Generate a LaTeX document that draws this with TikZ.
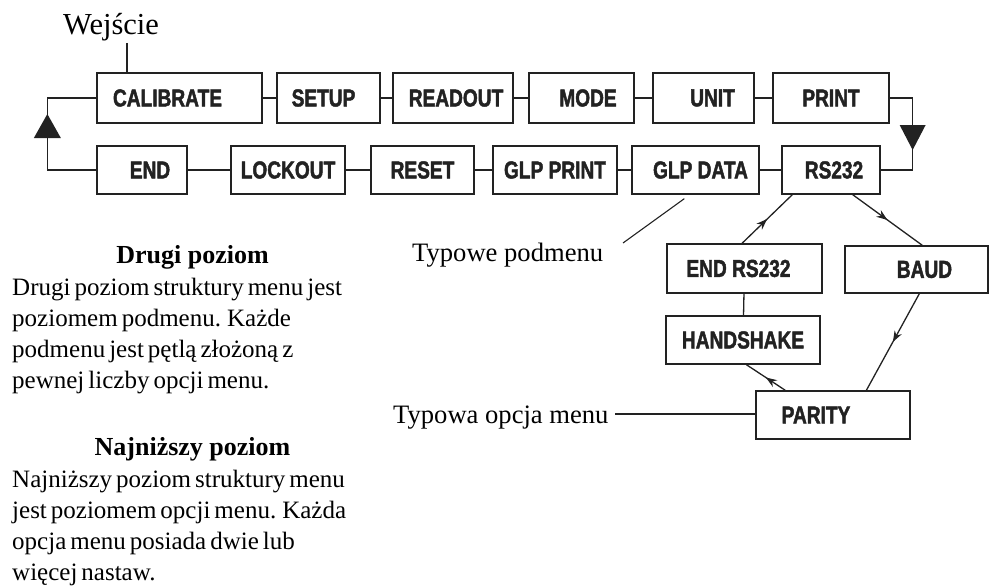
\documentclass[tikz,border=0pt]{standalone}
\usepackage{fontspec}
\setmainfont{Liberation Serif}
\newfontfamily\boxfont[FakeStretch=0.78, BoldFeatures={FakeBold=1.8}]{Liberation Sans}
\usetikzlibrary{arrows.meta,decorations.markings}

\definecolor{ink}{HTML}{222222}
\newcommand\tightwords{\spaceskip=4pt plus 1pt minus 1pt\relax}

\begin{document}
\begin{tikzpicture}[x=1pt,y=-1pt,
  menubox/.style={draw=ink, line width=1.3pt, inner sep=0pt, rectangle,
    font=\boxfont\bfseries\fontsize{24.5}{27}\selectfont, text=ink},
  toprow/.style={menubox, minimum height=50pt},
  botrow/.style={menubox, minimum height=48pt},
  link/.style={draw=ink, line width=1.3pt},
  midarrow/.style={draw=ink, line width=1.3pt, postaction={decorate},
    decoration={markings, mark=at position 0.5 with {\arrow{Stealth[length=11pt,width=8pt]}}}},
  note/.style={inner sep=0pt, font=\fontsize{26.6}{31}\selectfont},
  body/.style={inner sep=0pt, anchor=base west,
    font=\fontsize{25}{31}\selectfont\tightwords},
  headline/.style={inner sep=0pt, anchor=base,
    font=\bfseries\fontsize{26}{31}\selectfont},
]
\useasboundingbox (0,0) rectangle (991,586);

% main menu loop, upper row
\node[toprow, minimum width=165pt] (cal)   at (179.5,98) {CALIBRATE\hspace*{24pt}};
\node[toprow, minimum width=103pt] (setup) at (328.5,98) {SETUP\hspace*{10pt}};
\node[toprow, minimum width=120pt] (rdo)   at (453,98)   {\hspace*{6pt}READOUT};
\node[toprow, minimum width=105pt] (mode)  at (581.5,98) {\hspace*{13pt}MODE};
\node[toprow, minimum width=101pt] (unit)  at (703.5,98) {\hspace*{18pt}UNIT};
\node[toprow, minimum width=116pt] (print) at (831,98)   {PRINT};

% main menu loop, lower row
\node[botrow, minimum width=90pt]  (end)  at (142,170)   {\hspace*{16pt}END};
\node[botrow, minimum width=114pt] (lock) at (288,170)   {LOCKOUT};
\node[botrow, minimum width=103pt] (rst)  at (422.5,170) {RESET};
\node[botrow, minimum width=124pt] (gpr)  at (555,170)   {GLP PRINT};
\node[botrow, minimum width=127pt] (gda)  at (695.5,170) {\hspace*{10pt}GLP DATA};
\node[botrow, minimum width=98pt]  (rs)   at (831,170)   {\hspace*{6pt}RS232};

% RS232 submenu
\node[menubox, minimum width=155pt, minimum height=49pt] (endrs)  at (744.5,268.5) {END RS232\hspace*{12pt}};
\node[menubox, minimum width=143pt, minimum height=47pt] (baud)   at (916.5,269.5) {\hspace*{16pt}BAUD};
\node[menubox, minimum width=154pt, minimum height=48pt] (hand)   at (743,340)     {HANDSHAKE};
\node[menubox, minimum width=154pt, minimum height=48pt] (parity) at (833,415)     {PARITY\hspace*{34pt}};

% links along the rows
\draw[link] (cal) -- (setup);
\draw[link] (setup) -- (rdo);
\draw[link] (rdo) -- (mode);
\draw[link] (mode) -- (unit);
\draw[link] (unit) -- (print);
\draw[link] (end) -- (lock);
\draw[link] (lock) -- (rst);
\draw[link] (rst) -- (gpr);
\draw[link] (gpr) -- (gda);
\draw[link] (gda) -- (rs);

% return paths at both ends of the loop
\draw[link] (print.east) -- ++(23,0) coordinate (rturn) |- (rs.east);
\draw[link] (cal.west) -- ++(-49,0) coordinate (lturn) |- (end.west);
\fill[ink] ([yshift=-27pt]rturn) ++(-13,0) -- ++(26,0) -- ++(-13,25) -- cycle;
\fill[ink] ([yshift=-16pt]lturn) -- ++(13.5,24) -- ++(-27,0) -- cycle;

% submenu links
\draw[midarrow] ([xshift=-2.5pt]endrs.north) -- ([xshift=11pt]rs.south west);
\draw[midarrow] ([xshift=-28pt]rs.south east) -- ([xshift=78pt]baud.north west);
\draw[midarrow] ([xshift=75pt]baud.south west) -- ([xshift=111pt]parity.north west);
\draw[midarrow] ([xshift=30pt]parity.north west) -- ([xshift=81pt]hand.south west);
\draw[link] (endrs) -- (hand);

% entry label
\node[inner sep=0pt, anchor=base west, font=\fontsize{30.5}{34}\selectfont] (wej) at (63,35) {Wejście};
\coordinate (wejfoot) at (127,43);
\draw[link] (wejfoot) -- (wejfoot |- cal.north);

% callouts
\node[note, anchor=base west] (tpod) at (412,261) {Typowe podmenu};
\coordinate (tpodend) at (623,243);
\draw[draw=ink, line width=1.1pt] (tpodend) -- ([xshift=53pt,yshift=-4pt]gda.south west);
\node[note, anchor=base west] (topc) at (393,423) {Typowa opcja menu};
\coordinate (topcend) at (615,414);
\draw[draw=ink, line width=1.1pt] (topcend) -- (topcend -| parity.west);

% explanatory text
\node[headline] (h1) at (192.5,263) {Drugi poziom};
\node[body] (d1) at (12,295) {Drugi poziom struktury menu jest};
\node[body] (d2) at (12,326) {poziomem podmenu. Każde};
\node[body] (d3) at (12,357) {podmenu jest pętlą złożoną z};
\node[body] (d4) at (12,388) {pewnej liczby opcji menu.};

\node[headline] (h2) at (192.5,455) {Najniższy poziom};
\node[body] (n1) at (12,487) {Najniższy poziom struktury menu};
\node[body] (n2) at (12,518) {jest poziomem opcji menu. Każda};
\node[body] (n3) at (12,549) {opcja menu posiada dwie lub};
\node[body] (n4) at (12,580) {więcej nastaw.};
\end{tikzpicture}
\end{document}
